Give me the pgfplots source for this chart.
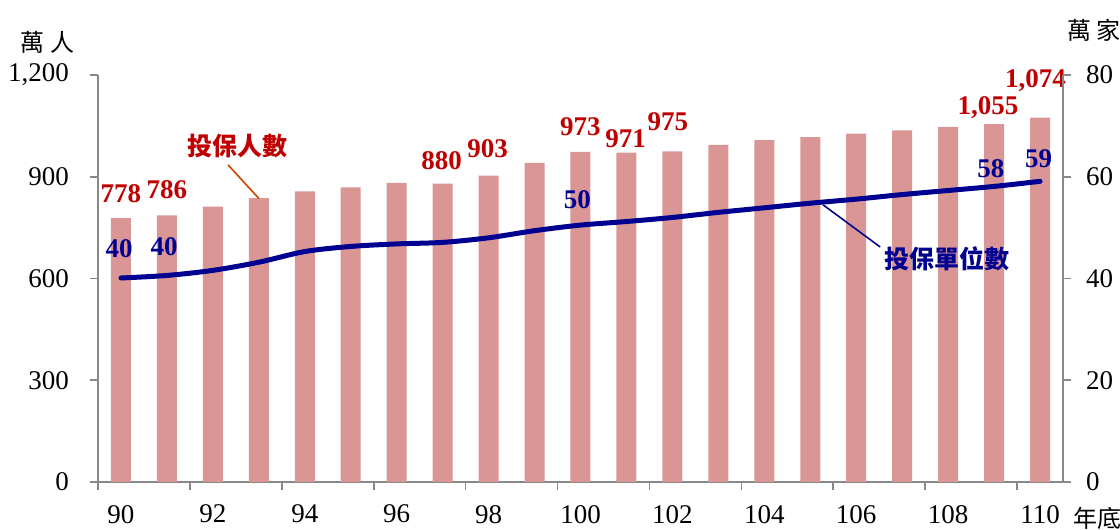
\documentclass[border=0pt]{standalone}
\usepackage{pgfplots}
\pgfplotsset{compat=1.18}
\usepackage{fontspec}
\setmainfont{Liberation Serif}
\newfontfamily\cjk{Noto Sans CJK TC}
\definecolor{barc}{RGB}{217,150,148}
\definecolor{axgray}{RGB}{137,137,137}
\definecolor{redt}{RGB}{192,0,0}
\definecolor{bluel}{RGB}{0,0,145}
\definecolor{leadr}{RGB}{204,68,0}
\begin{document}
\begin{tikzpicture}
\useasboundingbox (-49pt,-24pt) rectangle (511pt,241pt);
\pgfplotsset{
  common/.style={
    scale only axis, width=482.5pt, height=203.5pt,
    xmin=89.5, xmax=110.5,
    axis line style={draw=axgray, line width=0.8pt},
    tick style={draw=axgray, line width=0.8pt},
    tick align=outside, major tick length=4pt,
    /pgf/number format/assume math mode=true,
    /pgf/number format/1000 sep={,},
    ticklabel style={font=\fontsize{13.5}{15}\selectfont, text=black},
    clip=false,
  }
}
\begin{axis}[common,
  ymin=0, ymax=1200,
  axis x line*=bottom, axis y line*=left,
  xtick={89.5,91.5,93.5,95.5,97.5,99.5,101.5,103.5,105.5,107.5,109.5},
  xticklabels={90,92,94,96,98,100,102,104,106,108,110},
  xticklabel style={xshift=11.49pt, yshift=-4pt},
  yticklabel style={xshift=-7pt},
  ytick={0,300,600,900,1200},
  ybar, bar width=10pt,
]
\addplot[fill=barc, draw=none] coordinates {
(90,778) (91,786) (92,812) (93,837) (94,857) (95,869) (96,882) (97,880)
(98,903) (99,941) (100,973) (101,971) (102,975) (103,994) (104,1008)
(105,1017) (106,1027) (107,1037) (108,1047) (109,1055) (110,1074)};
\begin{scope}[every node/.style={font=\fontsize{13.5}{15}\selectfont\bfseries, text=redt, inner sep=0pt}]
\node at (axis cs:90,849) {778};
\node at (axis cs:91,861) {786};
\node at (axis cs:96.98,946) {880};
\node at (axis cs:97.98,982) {903};
\node at (axis cs:100,1047) {973};
\node at (axis cs:100.98,1011) {971};
\node at (axis cs:101.9,1061) {975};
\node at (axis cs:108.87,1103) {1,055};
\node at (axis cs:109.9,1182) {1,074};
\end{scope}
\begin{scope}[every node/.style={font=\fontsize{13.5}{15}\selectfont\bfseries, text=bluel, inner sep=0pt}]
\node at (axis cs:89.96,687) {40};
\node at (axis cs:90.94,693) {40};
\node at (axis cs:99.93,831) {50};
\node at (axis cs:108.93,923) {58};
\node at (axis cs:109.97,952) {59};
\end{scope}
\draw[leadr, line width=0.8pt] (axis cs:92.33,935) -- (axis cs:93.0,836);
\node[font=\cjk\bfseries\fontsize{12.5}{14}\selectfont, text=redt, inner sep=0pt] at (axis cs:92.53,991) {投保人數};
\draw[bluel, line width=0.8pt] (axis cs:105.28,817) -- (axis cs:106.52,693);
\node[font=\cjk\bfseries\fontsize{12.5}{14}\selectfont, text=bluel, inner sep=0pt] at (axis cs:107.98,657) {投保單位數};
\end{axis}
\begin{axis}[common,
  ymin=0, ymax=80,
  axis y line*=right, axis x line=none,
  ytick={0,20,40,60,80},
  yticklabel style={xshift=4pt},
]
\addplot[bluel, line width=2.5pt, smooth, tension=0.5, line cap=round, mark=none] coordinates {
(90,40.1) (91,40.6) (92,41.6) (93,43.2) (94,45.3) (95,46.3) (96,46.8)
(97,47.1) (98,48.0) (99,49.4) (100,50.5) (101,51.2) (102,52.0) (103,53.0)
(104,53.9) (105,54.8) (106,55.6) (107,56.5) (108,57.3) (109,58.1) (110,59.1)};
\end{axis}
\node[font=\cjk\fontsize{12}{14}\selectfont] at (-25pt,220pt) {萬\hspace{3pt}人};
\node[font=\cjk\fontsize{12}{14}\selectfont] at (498pt,226pt) {萬\hspace{3pt}家};
\node[font=\cjk\fontsize{12}{14}\selectfont] at (499.5pt,-18pt) {年底};
\end{tikzpicture}
\end{document}
